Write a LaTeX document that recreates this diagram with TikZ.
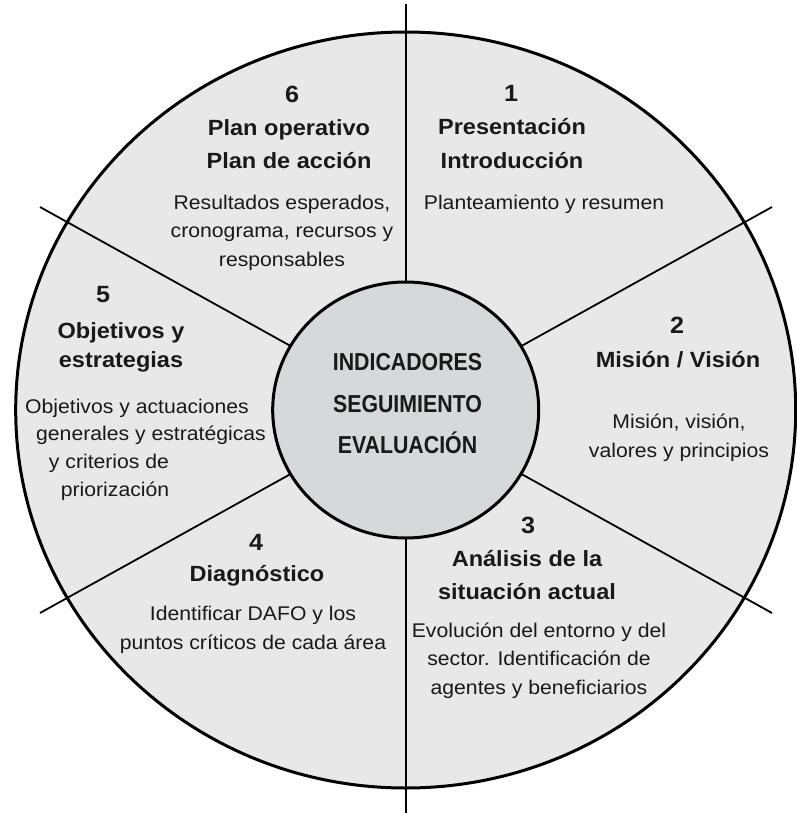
\documentclass[tikz,border=0pt]{standalone}
\usepackage{fontspec}
\setmainfont[FakeStretch=1.07]{Liberation Sans}
\newfontfamily\hubface[FakeStretch=0.87]{Liberation Sans}
\usetikzlibrary{shapes.geometric}
\definecolor{Ring}{RGB}{232,232,232}
\definecolor{Hub}{RGB}{213,217,217}
\definecolor{Ink}{RGB}{25,25,25}
\tikzset{
  ringline/.style={draw=black,line width=3pt},
  spoke/.style={draw=black,line width=1.8pt},
  hubshape/.style={ellipse,draw=black,line width=3pt,fill=Hub,minimum width=266pt,minimum height=256pt,inner sep=0pt},
  numtxt/.style={font=\fontsize{23.5}{28}\selectfont\bfseries,text=Ink,anchor=base,inner sep=0pt},
  headtxt/.style={font=\fontsize{22}{33}\selectfont\bfseries,text=Ink,align=center,anchor=base,inner sep=0pt},
  bodytxt/.style={font=\fontsize{19.8}{28.5}\selectfont,text=Ink,align=center,anchor=base,inner sep=0pt},
  hubtxt/.style={font=\hubface\fontsize{24.5}{41.5}\selectfont\bfseries,text=Ink,align=center,inner sep=0pt}
}
\begin{document}
\begin{tikzpicture}[x=1pt,y=-1pt]
\useasboundingbox (0,0) rectangle (796,813);
\coordinate (c) at (405.7,410);
% ring and spokes
\fill[Ring] (c) ellipse [x radius=390, y radius=378];
\coordinate (top) at (405.7,4);
\coordinate (bot) at (405.7,813);
\coordinate (ul) at (40,207);
\coordinate (ur) at (772,207);
\coordinate (ll) at (40,613);
\coordinate (lr) at (772,613);
\draw[spoke] (top) -- (bot);
\draw[spoke] (ul) -- (lr);
\draw[spoke] (ll) -- (ur);
\draw[ringline] (c) ellipse [x radius=390, y radius=378];
% centre
\node[hubshape] (hub) at (c) {};
\node[hubtxt] (hubtext) at (407.5,404) {INDICADORES\\ SEGUIMIENTO\\ EVALUACIÓN};
% 1 (base = last line)
\node[numtxt] (n1) at (511,102) {1};
\node[headtxt] (h1) at (512,168) {Presentación\\ Introducción};
\node[bodytxt] (b1) at (544,209) {Planteamiento y resumen};
% 2
\node[numtxt] (n2) at (677,333) {2};
\node[headtxt] (h2) at (678,367) {Misión / Visión};
\node[bodytxt] (b2) at (679,457) {Misión, visión,\\ valores y principios};
% 3
\node[numtxt] (n3) at (528,533) {3};
\node[headtxt] (h3) at (527,599) {Análisis de la\\ situación actual};
\node[bodytxt] (b3) at (539,694) {Evolución del entorno y del\\ sector. Identificación de\\ agentes y beneficiarios};
% 4
\node[numtxt] (n4) at (256,550) {4};
\node[headtxt] (h4) at (257,581) {Diagnóstico};
\node[bodytxt] (b4) at (253,649) {Identificar DAFO y los\\ puntos críticos de cada área};
% 5
\node[numtxt] (n5) at (103,302) {5};
\node[headtxt,font=\fontsize{22}{29}\selectfont\bfseries] (h5) at (121,367) {Objetivos y\\ estrategias};
\node[bodytxt] (b5a) at (137,413) {Objetivos y actuaciones};
\node[bodytxt] (b5b) at (151,440) {generales y estratégicas};
\node[bodytxt] (b5c) at (109,468) {y criterios de};
\node[bodytxt] (b5d) at (115,496) {priorización};
% 6
\node[numtxt] (n6) at (292,103) {6};
\node[headtxt] (h6) at (289,169) {Plan operativo\\ Plan de acción};
\node[bodytxt] (b6) at (282,266) {Resultados esperados,\\ cronograma, recursos y\\ responsables};
\end{tikzpicture}
\end{document}
